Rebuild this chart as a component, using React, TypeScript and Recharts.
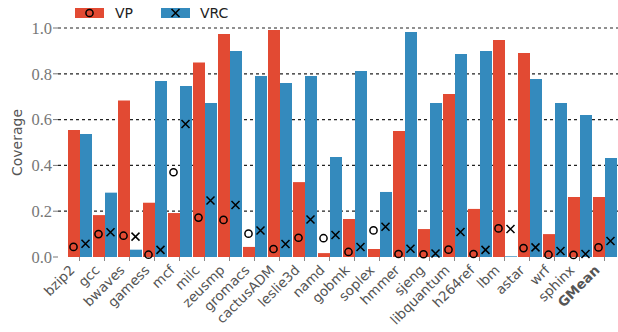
import React from "react";
import { Bar, CartesianGrid, ComposedChart, Line, XAxis, YAxis } from "recharts";

const benchmarks = [
  "bzip2", "gcc", "bwaves", "gamess", "mcf", "milc", "zeusmp", "gromacs", "cactusADM", "leslie3d", "namd",
  "gobmk", "soplex", "hmmer", "sjeng", "libquantum", "h264ref", "lbm", "astar", "wrf", "sphinx", "GMean",
];

// bar heights (coverage)
const vpCoverage = [
  0.555, 0.183, 0.683, 0.237, 0.192, 0.849, 0.974, 0.044, 0.991, 0.327, 0.017,
  0.166, 0.035, 0.55, 0.122, 0.712, 0.21, 0.948, 0.891, 0.1, 0.262, 0.262,
];
const vrcCoverage = [
  0.537, 0.281, 0.032, 0.769, 0.747, 0.672, 0.9, 0.79, 0.76, 0.79, 0.437,
  0.812, 0.284, 0.983, 0.672, 0.886, 0.9, 0.003, 0.777, 0.672, 0.62, 0.432,
];

// marker values drawn over the bars
const vpMarker = [
  0.044, 0.1, 0.093, 0.01, 0.37, 0.172, 0.162, 0.102, 0.035, 0.084, 0.082,
  0.022, 0.116, 0.013, 0.012, 0.032, 0.013, 0.125, 0.039, 0.01, 0.009, 0.042,
];
const vrcMarker = [
  0.058, 0.108, 0.089, 0.031, 0.581, 0.247, 0.227, 0.116, 0.057, 0.164, 0.096,
  0.044, 0.132, 0.036, 0.015, 0.109, 0.031, 0.122, 0.042, 0.026, 0.013, 0.07,
];

const yTicks = [0, 0.2, 0.4, 0.6, 0.8, 1.0];
const gridValues = [0.2, 0.4, 0.6, 0.8, 1.0];
const Y_MIN = 0;
const Y_MAX = 1;

const RED = "#E24A33";
const BLUE = "#348ABD";
const BAR = 12;

const data = benchmarks.map((name, i) => ({
  name,
  vp: vpCoverage[i],
  vrc: vrcCoverage[i],
  vpMark: vpMarker[i],
  vrcMark: vrcMarker[i],
}));

function CircleMark({ cx, cy, dx = 0 }: any) {
  return <circle cx={cx + dx} cy={cy} r={3.6} fill="none" stroke="#000" strokeWidth={1.5} />;
}

function CrossMark({ cx, cy, dx = 0 }: any) {
  const s = 4;
  const x = cx + dx;
  return (
    <path
      d={`M${x - s},${cy - s}L${x + s},${cy + s}M${x - s},${cy + s}L${x + s},${cy - s}`}
      stroke="#000"
      strokeWidth={1.5}
      fill="none"
    />
  );
}

function XTick({ x, y, payload }: any) {
  const bold = payload.value === "GMean";
  return (
    <g transform={`translate(${x},${y})`}>
      <text
        x={-4}
        y={8}
        transform="rotate(-45 -4 8)"
        textAnchor="end"
        fontFamily="DejaVu Sans"
        fontSize={13.5}
        fontWeight={bold ? "bold" : "normal"}
        fill="#555"
      >
        {payload.value}
      </text>
    </g>
  );
}

function LegendBox() {
  return (
    <svg width={260} height={26} style={{ position: "absolute", left: 0, top: 0 }}>
      <rect x={75} y={8} width={29} height={10} fill={RED} />
      <CircleMark cx={89.5} cy={13} />
      <text x={115} y={18} fontFamily="DejaVu Sans" fontSize={14} fill="#222">VP</text>
      <rect x={161} y={8} width={29} height={10} fill={BLUE} />
      <CrossMark cx={175.5} cy={13} />
      <text x={200} y={18} fontFamily="DejaVu Sans" fontSize={14} fill="#222">VRC</text>
    </svg>
  );
}

export default function App() {
  return (
    <div style={{ position: "relative", width: 618, height: 332 }}>
      <style>{"body{margin:0}"}</style>
      <ComposedChart
        width={618}
        height={332}
        data={data}
        margin={{ top: 28, right: 0, left: 0, bottom: 0 }}
        barGap={0}
        barCategoryGap={0}
      >
        <CartesianGrid
          vertical={false}
          stroke="#222"
          strokeWidth={1.2}
          strokeDasharray="3 3"
          horizontalCoordinatesGenerator={({ offset }: any) =>
            gridValues.map((v) => offset.top + offset.height * (1 - (v - Y_MIN) / (Y_MAX - Y_MIN)))
          }
        />
        <XAxis
          dataKey="name"
          interval={0}
          height={75}
          padding={{ left: 9, right: 1 }}
          axisLine={false}
          tickSize={4}
          tickLine={{ stroke: "#888" }}
          tick={<XTick />}
        />
        <YAxis
          width={58}
          domain={[Y_MIN, Y_MAX]}
          ticks={yTicks}
          tickFormatter={(v) => Number(v).toFixed(1)}
          axisLine={false}
          tickSize={5}
          tickMargin={1}
          tickLine={{ stroke: "#777" }}
          tick={{ fontFamily: "Liberation Serif", fontSize: 16.5, fill: "#777" }}
          label={{
            content: (props: any) => {
              const vb = props.viewBox || { x: 0, y: 28, height: 229 };
              const cx = vb.x + 17;
              const cy = vb.y + vb.height / 2;
              return (
                <text
                  x={cx}
                  y={cy}
                  transform={`rotate(-90 ${cx} ${cy})`}
                  textAnchor="middle"
                  dominantBaseline="central"
                  fontFamily="DejaVu Sans"
                  fontSize={14}
                  fill="#555"
                >
                  Coverage
                </text>
              );
            },
          }}
        />
        <Bar dataKey="vp" fill={RED} barSize={BAR} isAnimationActive={false} />
        <Bar dataKey="vrc" fill={BLUE} barSize={BAR} isAnimationActive={false} />
        <Line
          dataKey="vpMark"
          stroke="none"
          isAnimationActive={false}
          activeDot={false}
          dot={(p: any) => <CircleMark key={`c${p.index}`} cx={p.cx} cy={p.cy} dx={-BAR / 2} />}
        />
        <Line
          dataKey="vrcMark"
          stroke="none"
          isAnimationActive={false}
          activeDot={false}
          dot={(p: any) => <CrossMark key={`x${p.index}`} cx={p.cx} cy={p.cy} dx={BAR / 2} />}
        />
      </ComposedChart>
      <LegendBox />
    </div>
  );
}
